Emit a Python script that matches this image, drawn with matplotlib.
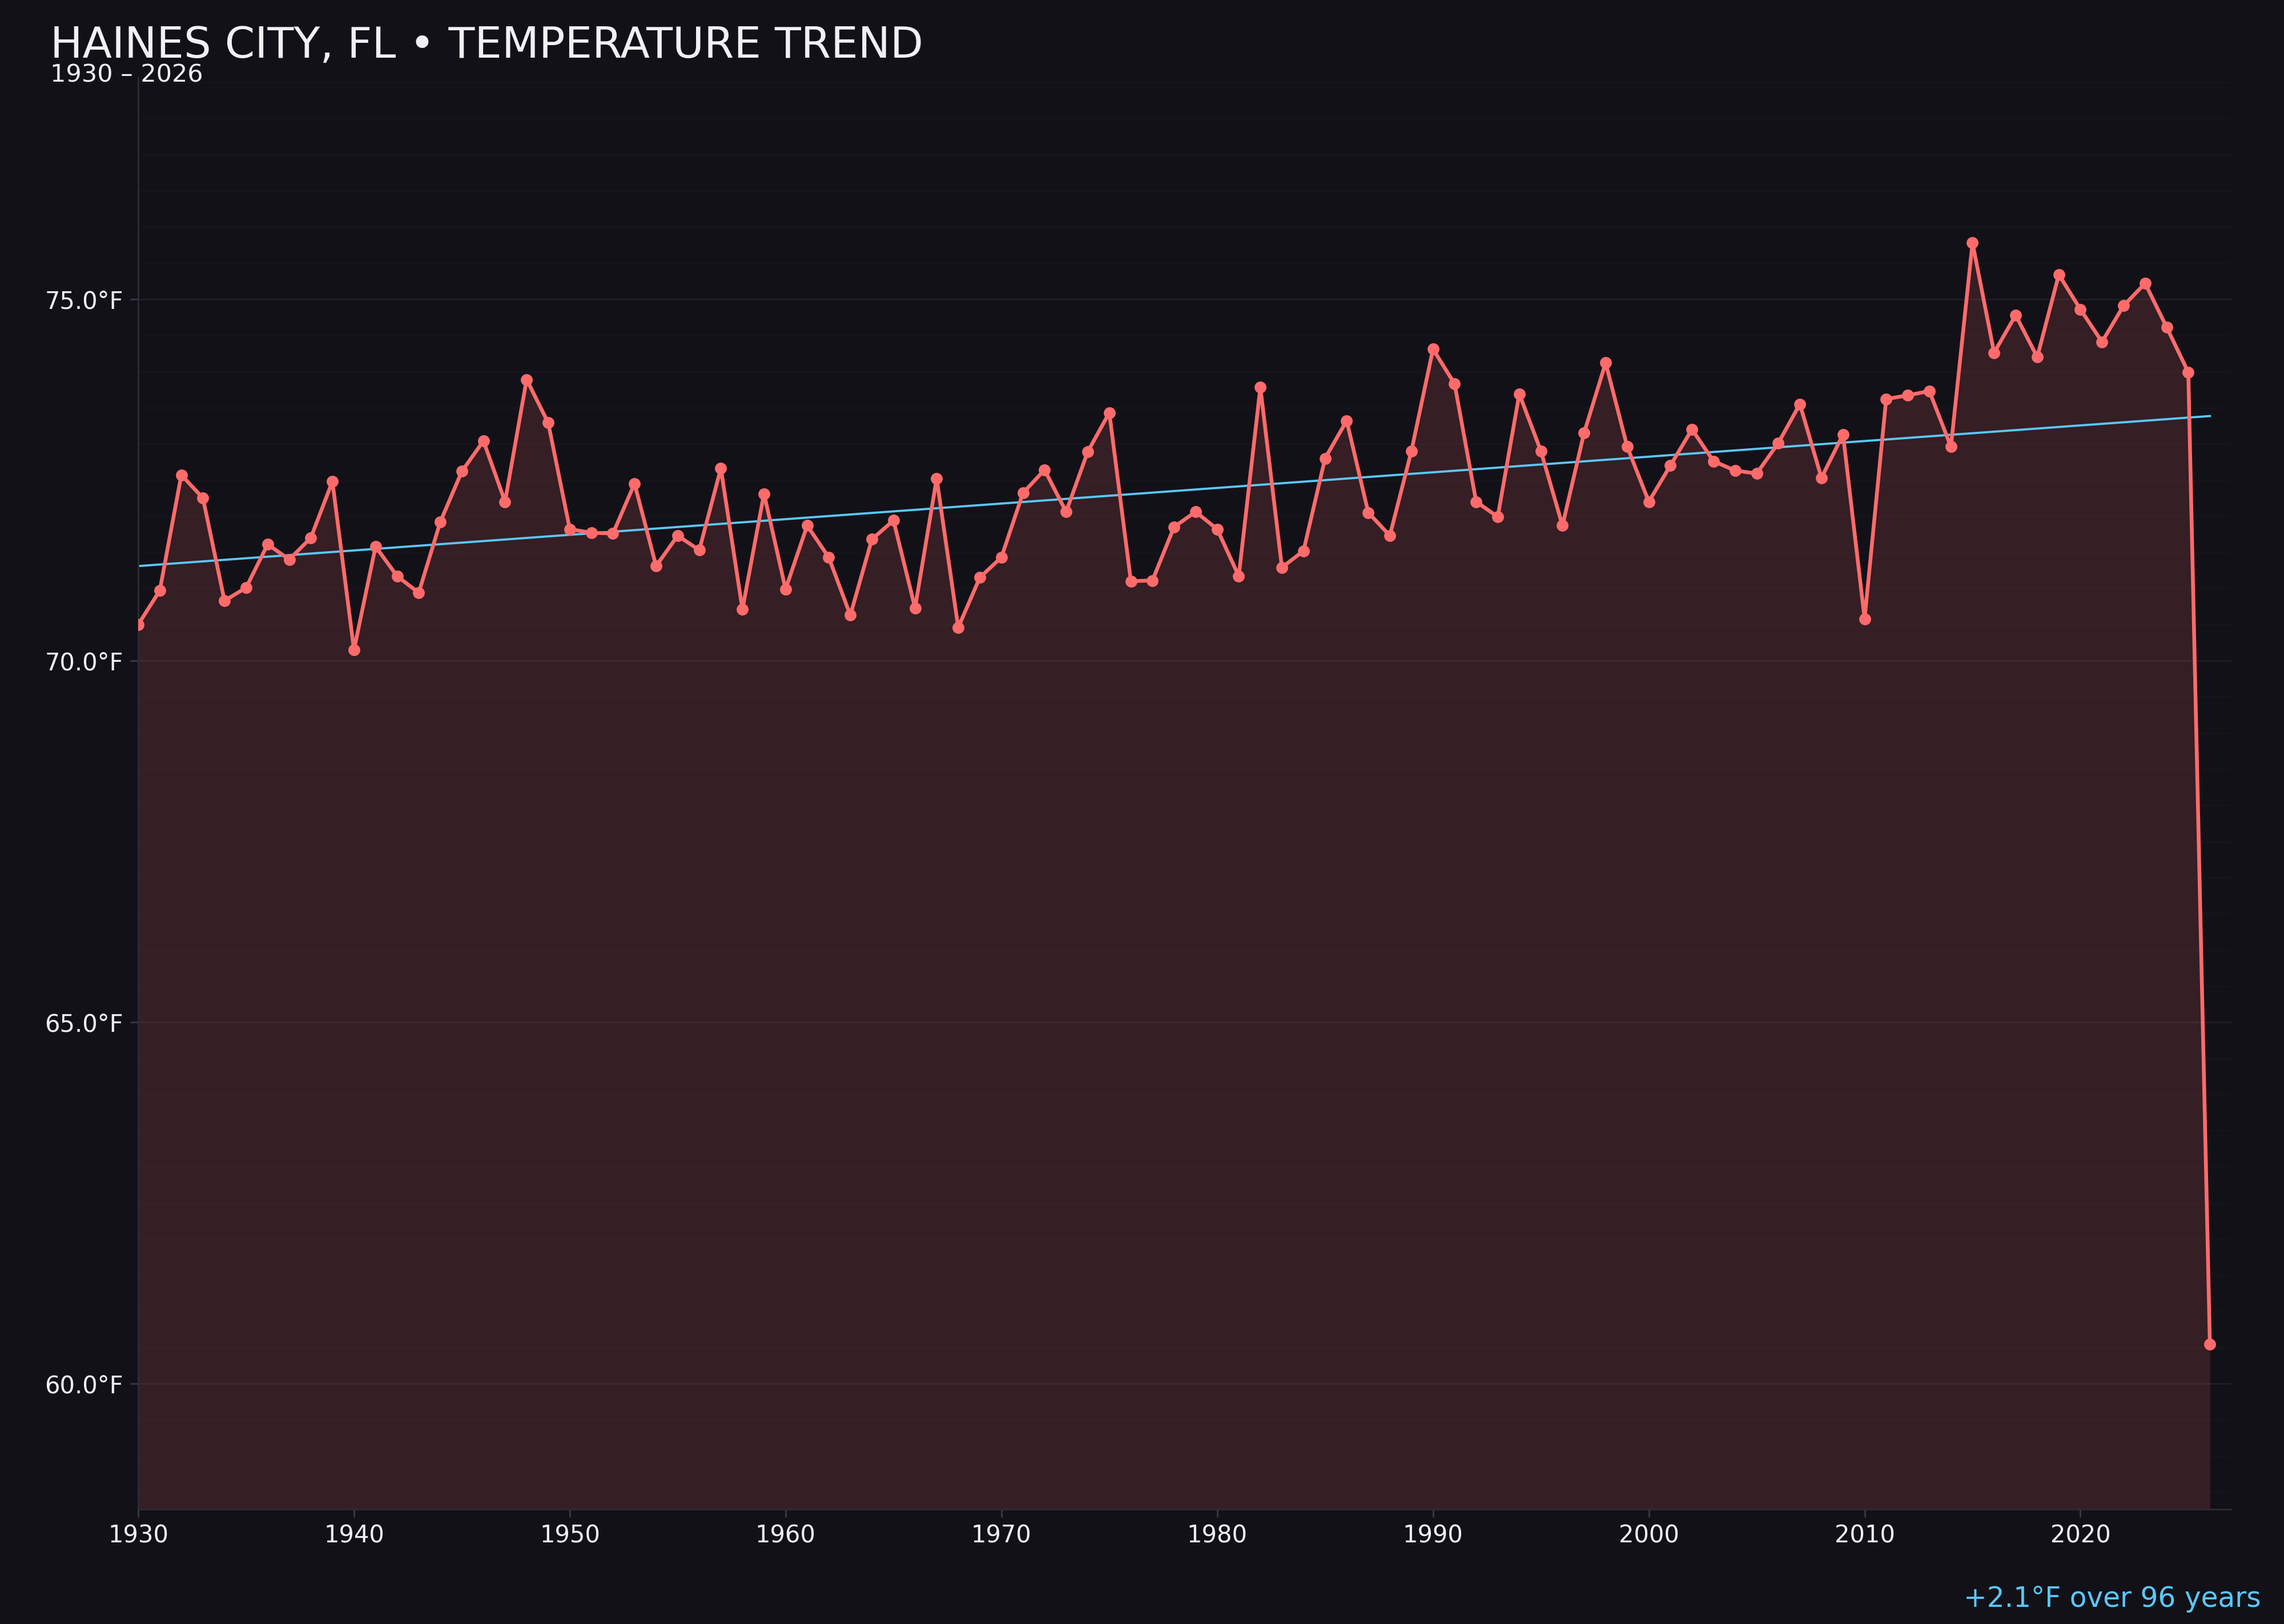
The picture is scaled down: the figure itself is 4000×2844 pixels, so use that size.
import numpy as np
import matplotlib
matplotlib.use("Agg")
import matplotlib.pyplot as plt
from matplotlib.ticker import MultipleLocator, FuncFormatter

# annual mean temperature, Haines City FL
years = list(range(1930, 2027))
temps = [
    70.50, 70.97, 72.57, 72.25, 70.83, 71.01, 71.61, 71.40, 71.70, 72.48,  # 1930s
    70.15, 71.58, 71.17, 70.94, 71.92, 72.62, 73.04, 72.20, 73.89, 73.29,  # 1940s
    71.82, 71.77, 71.76, 72.45, 71.31, 71.73, 71.53, 72.66, 70.71, 72.31,  # 1950s
    70.99, 71.87, 71.43, 70.63, 71.68, 71.94, 70.73, 72.52, 70.46, 71.15,  # 1960s
    71.43, 72.32, 72.64, 72.06, 72.89, 73.43, 71.10, 71.11, 71.85, 72.06,  # 1970s
    71.82, 71.17, 73.78, 71.29, 71.52, 72.80, 73.32, 72.05, 71.73, 72.90,  # 1980s
    74.31, 73.83, 72.20, 71.99, 73.69, 72.90, 71.87, 73.15, 74.12, 72.96,  # 1990s
    72.20, 72.70, 73.20, 72.76, 72.63, 72.59, 73.01, 73.55, 72.53, 73.13,  # 2000s
    70.58, 73.62, 73.67, 73.73, 72.96, 75.78, 74.26, 74.78, 74.20, 75.34,  # 2010s
    74.86, 74.41, 74.91, 75.22, 74.61, 73.99, 60.55,                       # 2020s
]
title = "HAINES CITY, FL \u2022 TEMPERATURE TREND"
subtitle = "1930 \u2013 2026"
note = "+2.1\u00b0F over 96 years"

BG = "#121118"
RED = "#ff6b6b"
BLUE = "#5ac8fa"
TXT = "#f0f0f5"

x = np.array(years)
y = np.array(temps)

fig = plt.figure(figsize=(16, 11.376), dpi=250, facecolor=BG)
ax = fig.add_axes([0.0605, 0.0707, 0.9165, 0.8815])
ax.set_facecolor(BG)

span = y.max() - y.min()
lo = y.min() - 0.15 * span
hi = y.max() + 0.15 * span

ax.fill_between(x, y, lo, color=RED, alpha=0.15, linewidth=0, zorder=1)
ax.plot(x, y, color=RED, linewidth=1.9, marker="o", markersize=5, zorder=3)

k, b = np.polyfit(x, y, 1)
ax.plot(x, k * x + b, color=BLUE, linewidth=1.1, zorder=2)

ax.set_xlim(1930, 2027)
ax.set_ylim(lo, hi)
ax.xaxis.set_major_locator(MultipleLocator(10))
ax.yaxis.set_major_locator(MultipleLocator(5))
ax.yaxis.set_minor_locator(MultipleLocator(0.5))
ax.yaxis.set_major_formatter(FuncFormatter(lambda v, p: f"{v:.1f}\u00b0F"))

ax.grid(axis="y", which="major", color="white", alpha=0.06, linewidth=0.8)
ax.grid(axis="y", which="minor", color="white", alpha=0.015, linewidth=0.8)
ax.set_axisbelow(True)
for s in ["top", "right"]:
    ax.spines[s].set_visible(False)
for s in ["left", "bottom"]:
    ax.spines[s].set_color("#2c2c36")
    ax.spines[s].set_linewidth(0.8)
ax.tick_params(axis="both", which="major", colors="#3a3a44", labelcolor=TXT,
               labelsize=12, length=4, width=0.8)
ax.tick_params(axis="y", which="minor", length=0)

fig.text(0.022, 0.9645, title, color=TXT, fontsize=21.7, ha="left", va="baseline")
fig.text(0.022, 0.9495, subtitle, color=TXT, fontsize=12.4, ha="left", va="baseline")
fig.text(0.99, 0.0105, note, color=BLUE, fontsize=14, ha="right", va="baseline")

fig.savefig("out.png", dpi=250, facecolor=BG)
